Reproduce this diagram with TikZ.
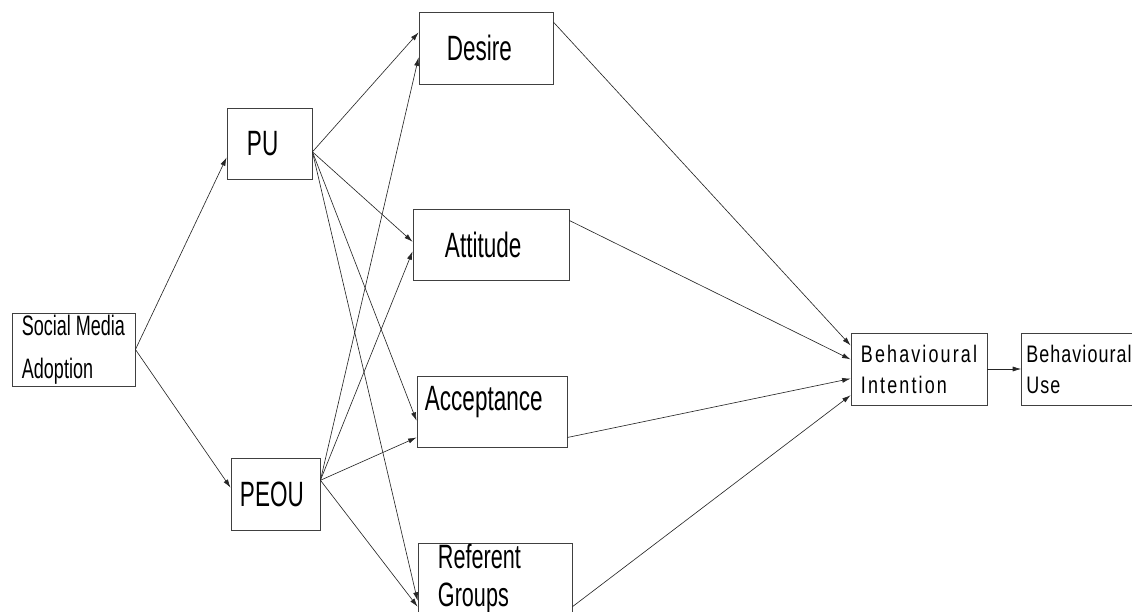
\documentclass[tikz,border=0pt]{standalone}
\usepackage{fontspec}
\setmainfont{Liberation Sans}
\newfontfamily\narrowfont[FakeStretch=0.64]{Liberation Sans}
\newfontfamily\trackfont[FakeStretch=0.75,LetterSpace=9]{Liberation Sans}
\newfontfamily\bufont[FakeStretch=0.75,LetterSpace=4.5]{Liberation Sans}
\usetikzlibrary{arrows.meta,positioning}
\hyphenpenalty=10000
\exhyphenpenalty=10000
\tikzstyle{box} = [rectangle, draw=black!75, line width=0.6pt, align=left, inner ysep=0pt, font=\narrowfont\fontsize{25}{30}\selectfont]
\tikzstyle{link} = [-{Latex[length=6pt,width=3.6pt]}, line width=0.45pt, black!85]

\begin{document}
\begin{tikzpicture}[x=0.025cm, y=-0.025cm]
    \useasboundingbox (0,0) rectangle (1132,612);
    \clip (0,0) rectangle (1132,612);
    % constructs
    \node[box, minimum width=3.075cm, minimum height=1.825cm, inner xsep=0pt, font=\narrowfont\fontsize{20}{30.6}\selectfont] (sma) at (73.5,349.5) {Social Media\\Adoption};
    \node[box, minimum height=1.775cm, text width=1.125cm, inner xsep=0.5cm] (pu) at (269.5,143.5) {PU};
    \node[box, minimum height=1.8cm, text width=1.775cm, inner xsep=0.225cm] (peou) at (275.5,494) {PEOU};
    \node[box, minimum height=1.8cm, text width=1.95cm, inner xsep=0.7cm] (desire) at (486,48) {Desire};
    \node[box, minimum height=1.775cm, text width=2.3cm, inner xsep=0.8cm] (attitude) at (491,244.5) {Attitude};
    \node[box, minimum height=1.775cm, text width=3.35cm, inner xsep=0.2cm, text depth=0.63cm] (acceptance) at (492,411.5) {Acceptance};
    \node[box, minimum height=1.775cm, text width=2.85cm, inner xsep=0.5cm, font=\narrowfont\fontsize{24}{27}\selectfont] (referent) at (495,578.5) {Referent\\Groups};
    \node[box, minimum width=3.4cm, minimum height=1.8cm, font=\trackfont\fontsize{17}{22}\selectfont] (bi) at (919,369) {Behavioural\\Intention};
    \node[box, minimum width=2.75cm, minimum height=1.8cm, font=\bufont\fontsize{17}{22}\selectfont] (bu) at (1079,369) {Behavioural\\Use};
    % paths
    \draw[link] (sma.east) -- (pu.198);
    \draw[link] (sma.east) -- (peou.172);
    \draw[link] (pu.349) -- (desire.167);
    \draw[link] (pu.349) -- (attitude.178);
    \draw[link] (pu.349) -- (acceptance.187);
    \draw[link] (pu.349) -- (referent.196);
    \draw[link] (peou.17) -- (desire.188);
    \draw[link] (peou.17) -- (attitude.185);
    \draw[link] (peou.17) -- (acceptance.199);
    \draw[link] (peou.17) -- (referent.200);
    \draw[link] (desire.21) -- (bi.161);
    \draw[link] (attitude.17) -- (bi.172);
    \draw[link] (acceptance.341) -- (bi.188);
    \draw[link] (referent.340) -- (bi.201);
    \draw[link] (bi) -- (bu);
\end{tikzpicture}
\end{document}
